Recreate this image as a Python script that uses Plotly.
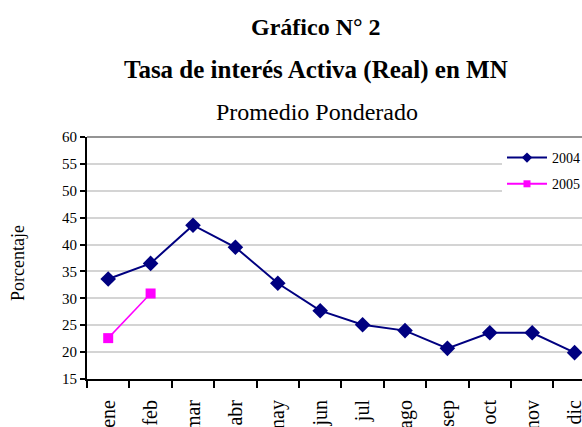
import plotly.graph_objects as go

months = ["ene", "feb", "mar", "abr", "may", "jun", "jul", "ago", "sep", "oct", "nov", "dic"]
values_2004 = [33.6, 36.5, 43.6, 39.5, 32.8, 27.7, 25.1, 24.0, 20.7, 23.6, 23.6, 19.9]
values_2005 = [22.6, 30.9]
y_ticks = [15, 20, 25, 30, 35, 40, 45, 50, 55, 60]

FONT = "Liberation Serif"
W, H = 582, 427
ML, MR, MT, MB = 87, 0, 137, 48
PW = W - ML - MR
PH = H - MT - MB
NAVY = "#000080"
MAGENTA = "#FF00FF"

def px_x(x):
    return (x - ML) / PW

def px_y(y):
    return (H - MB - y) / PH

fig = go.Figure()
fig.add_trace(go.Scatter(
    x=months, y=values_2004, name="2004", mode="lines+markers",
    line=dict(color=NAVY, width=2),
    marker=dict(symbol="diamond", size=12, color=NAVY),
    showlegend=False,
))
fig.add_trace(go.Scatter(
    x=months[:len(values_2005)], y=values_2005, name="2005", mode="lines+markers",
    line=dict(color=MAGENTA, width=1.5),
    marker=dict(symbol="square", size=10, color=MAGENTA),
    showlegend=False,
))
# legend entries with small symbols (as in the reference legend)
fig.add_trace(go.Scatter(
    x=[None], y=[None], name="2004", mode="lines+markers",
    line=dict(color=NAVY, width=2),
    marker=dict(symbol="diamond", size=8, color=NAVY),
    legendgroup="a",
))
fig.add_trace(go.Scatter(
    x=[None], y=[None], name="2005", mode="lines+markers",
    line=dict(color=MAGENTA, width=2),
    marker=dict(symbol="square", size=7, color=MAGENTA),
    legendgroup="b",
))

fig.update_layout(
    width=W, height=H,
    margin=dict(l=ML, r=MR, t=MT, b=MB, autoexpand=False),
    paper_bgcolor="white", plot_bgcolor="white",
    font=dict(family=FONT, color="black"),
    showlegend=True,
    legend=dict(
        x=px_x(502), y=px_y(142), xanchor="left", yanchor="top",
        bgcolor="white", borderwidth=0, font=dict(family=FONT, size=14),
        tracegroupgap=5, itemwidth=40,
    ),
    xaxis=dict(
        type="category", categoryorder="array", categoryarray=months,
        range=[-0.5, -0.5 + PW / 42.4],
        showgrid=False, zeroline=False,
        showline=True, linecolor="black", linewidth=2,
        ticks="outside", ticklen=7, tickwidth=2, tickcolor="black",
        tickson="boundaries", tickangle=-90, ticklabelstandoff=11,
        tickfont=dict(family=FONT, size=20, color="black"),
        automargin=False,
    ),
    yaxis=dict(
        range=[15, 60], tickvals=y_ticks,
        showgrid=True, gridcolor="#d4d4d4", gridwidth=1.5,
        zeroline=False,
        showline=True, linecolor="black", linewidth=2,
        ticks="outside", ticklen=5, tickwidth=1.5, tickcolor="black",
        tickfont=dict(family=FONT, size=15, color="black"),
        automargin=False,
    ),
    shapes=[dict(type="line", xref="paper", yref="y domain", x0=0, x1=1, y0=1, y1=1,
                 line=dict(color="#707070", width=1.5))],
    annotations=[
        dict(text="<b>Gráfico N° 2</b>", xref="paper", yref="paper", x=px_x(316), y=px_y(27),
             xanchor="center", yanchor="middle", showarrow=False,
             font=dict(family=FONT, size=24, color="black")),
        dict(text="<b>Tasa de interés Activa (Real) en MN</b>", xref="paper", yref="paper",
             x=px_x(316), y=px_y(70), xanchor="center", yanchor="middle", showarrow=False,
             font=dict(family=FONT, size=25, color="black")),
        dict(text="Promedio Ponderado", xref="paper", yref="paper", x=px_x(317), y=px_y(112),
             xanchor="center", yanchor="middle", showarrow=False,
             font=dict(family=FONT, size=24, color="black")),
        dict(text="Porcentaje", xref="paper", yref="paper", x=px_x(18), y=px_y(263),
             xanchor="center", yanchor="middle", showarrow=False, textangle=-90,
             font=dict(family=FONT, size=18, color="black")),
    ],
)

fig.write_html("out.html", config={"displayModeBar": False},
               post_script="document.body.style.margin='0';")
